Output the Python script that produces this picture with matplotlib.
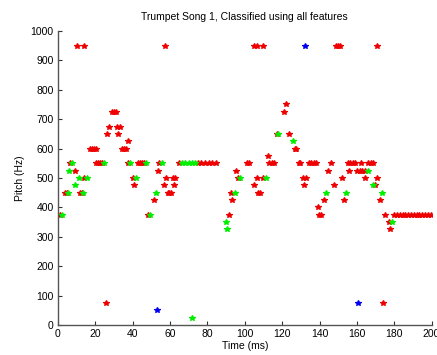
import matplotlib
matplotlib.use('Agg')
import matplotlib.pyplot as plt

# red = first class, green = second class, blue = third class
red_t = [1.2, 48.1, 91.3, 139.6, 140.7, 175.3,
         180, 181.5, 183, 184.5, 186, 187.5, 189, 190.5, 192, 193.5, 195, 196.5, 198, 199.5,
         139,
         51.2, 93.1, 142.6, 153, 172.1,
         3.8, 4.8, 11.7, 12.6, 58.7, 59.6, 60.5, 92.6, 107, 108.3,
         40.5, 56.6, 62.2, 104.7, 131.9, 148, 169.7,
         14.1, 40, 57.9, 61.4, 62.6, 96.3, 106.5, 109.7, 131.2, 133, 151.8, 164.1, 170.9,
         9.1, 53.3, 95.3, 144.6, 156, 160.2, 161.5, 162.8, 164.1,
         6.2, 20.5, 21.5, 22.5, 23.4, 37.7, 43, 44, 45, 45.8, 54.3, 64.7, 74.9, 76.8, 78.7,
         80.6, 82.5, 84.4, 101.2, 102, 113.1, 114.3, 115.5, 128.9, 129.7, 134.2, 135.5,
         136.8, 138.2, 145.9, 155.1, 156.4, 157.8, 159.2, 162, 165.9, 167.3, 168.8,
         112.3,
         17, 18.2, 19.4, 20.6, 34.1, 35.2, 36.4, 126.7, 127.6,
         37.3,
         26.5, 32.3, 117.3, 123.9,
         27.5, 31.4, 33.3,
         29, 30, 31, 121.2,
         122.2,
         10.2, 14, 57.4, 105, 106.3, 110, 149, 150, 151, 170.5,
         25.6, 174.1,
         177.7, 177.1]
red_hz = [375, 375, 375, 375, 375, 375,
          375, 375, 375, 375, 375, 375, 375, 375, 375, 375, 375, 375, 375, 375,
          400,
          425, 425, 425, 425, 425,
          450, 450, 450, 450, 450, 450, 450, 450, 450, 450,
          475, 475, 475, 475, 475, 475, 475,
          500, 500, 500, 500, 500, 500, 500, 500, 500, 500, 500, 500, 500,
          525, 525, 525, 525, 525, 525, 525, 525, 525,
          550, 550, 550, 550, 550, 550, 550, 550, 550, 550, 550, 550, 550, 550, 550,
          550, 550, 550, 550, 550, 550, 550, 550, 550, 550, 550, 550,
          550, 550, 550, 550, 550, 550, 550, 550, 550, 550, 550,
          575,
          600, 600, 600, 600, 600, 600, 600, 600, 600,
          625,
          650, 650, 650, 650,
          675, 675, 675,
          725, 725, 725, 725,
          750,
          950, 950, 950, 950, 950, 950, 950, 950, 950, 950,
          75, 75,
          325, 350]

green_t = [90.4, 89.9, 178.6, 2.4, 49.4,
           5.5, 13.3, 52.4, 94.5, 143.5, 154.3, 173.2,
           9.2, 168.6,
           11, 15.5, 41.8, 97.2, 111.4,
           5.8, 165.9,
           7.5, 24.8, 38.4, 47.2, 55.6, 66.3, 68.1, 69.9, 71.7, 73.5,
           125.8, 117.8, 72]
green_hz = [325, 350, 350, 375, 375,
            450, 450, 450, 450, 450, 450, 450,
            475, 475,
            500, 500, 500, 500, 500,
            525, 525,
            550, 550, 550, 550, 550, 550, 550, 550, 550, 550,
            625, 650, 25]

blue_t = [53.2, 132, 160.7]
blue_hz = [50, 950, 75]

plt.rcParams['font.family'] = ['Liberation Sans', 'DejaVu Sans']

fig = plt.figure(figsize=(4.37, 3.55), dpi=100)
ax = fig.add_axes([0.1327, 0.0845, 0.855, 0.8282])

mk = dict(linestyle='none', marker='*', markersize=3.8, markeredgewidth=0.9)
ax.plot(red_t, red_hz, color='#ee0000', **mk)
ax.plot(green_t, green_hz, color='#00ee00', **mk)
ax.plot(blue_t, blue_hz, color='#0000ee', **mk)

ax.set_xlim(0, 200)
ax.set_ylim(0, 1000)
ax.set_xticks(range(0, 201, 20))
ax.set_yticks(range(0, 1001, 100))
ax.tick_params(direction='in', labelsize=7.5, length=3, width=0.8, colors='#333333',
               labelcolor='black', pad=3)
for s in ['top', 'right']:
    ax.spines[s].set_visible(False)
for s in ['left', 'bottom']:
    ax.spines[s].set_color('#555555')
    ax.spines[s].set_linewidth(1)

ax.set_title('Trumpet Song 1, Classified using all features', fontsize=7.5, pad=8)
ax.set_xlabel('Time (ms)', fontsize=7.5, labelpad=1)
ax.set_ylabel('Pitch (Hz)', fontsize=7.5, labelpad=4)

fig.savefig('out.png', dpi=100)
